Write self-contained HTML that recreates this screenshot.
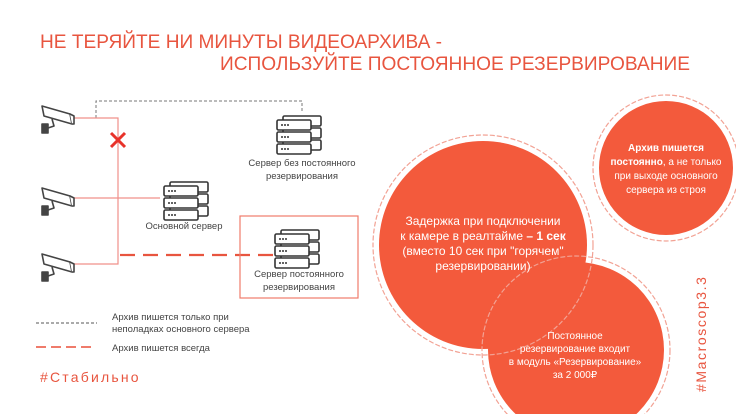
<!DOCTYPE html>
<html><head><meta charset="utf-8"><style>
html,body{margin:0;padding:0;background:#fff;width:736px;height:414px;overflow:hidden}
svg{display:block}
text{font-family:"Liberation Sans","DejaVu Sans",sans-serif}
</style></head><body>
<svg width="736" height="414" viewBox="0 0 736 414" xmlns="http://www.w3.org/2000/svg" style="overflow:hidden">
<defs>
<clipPath id="frame"><rect x="0" y="0" width="736" height="414"/></clipPath>
<g id="srv" fill="#fff" stroke="#333" stroke-width="1.6">
<rect x="6" y="0" width="38" height="10" rx="1.5"/>
<rect x="6" y="12" width="38" height="10" rx="1.5"/>
<rect x="6" y="24" width="38" height="10" rx="1.5"/>
<rect x="0" y="4" width="34" height="10" rx="1.5"/>
<rect x="0" y="16" width="34" height="10" rx="1.5"/>
<rect x="0" y="28" width="34" height="10" rx="1.5"/>
<g fill="#333" stroke="none">
<circle cx="5" cy="9" r="1"/><circle cx="8" cy="9" r="1"/><circle cx="11" cy="9" r="1"/>
<circle cx="5" cy="21" r="1"/><circle cx="8" cy="21" r="1"/><circle cx="11" cy="21" r="1"/>
<circle cx="5" cy="33" r="1"/><circle cx="8" cy="33" r="1"/><circle cx="11" cy="33" r="1"/>
</g></g>
<g id="cam" fill="#fff" stroke="#444" stroke-width="1.6" stroke-linejoin="round">
<path d="M2 2 L30 10 L32 20 L4 12 Z"/>
<path d="M30 10 L34 12 L34 20 L32 20"/>
<path d="M12 15 L14 22 L8 24" fill="none"/>
<rect x="2" y="20" width="6" height="9" fill="#444"/>
</g>
</defs>

<text x="40" y="48" font-size="19" fill="#e8553f" textLength="402" lengthAdjust="spacingAndGlyphs">НЕ ТЕРЯЙТЕ НИ МИНУТЫ ВИДЕОАРХИВА -</text>
<text x="220" y="70" font-size="19" fill="#e8553f" textLength="470" lengthAdjust="spacingAndGlyphs">ИСПОЛЬЗУЙТЕ ПОСТОЯННОЕ РЕЗЕРВИРОВАНИЕ</text>

<polyline points="96,118 96,101 302,101 302,112" fill="none" stroke="#777" stroke-width="1" stroke-dasharray="3,2"/>
<polyline points="73,118 118,118 118,264 72,264" fill="none" stroke="#f0908a" stroke-width="1.2"/>
<line x1="72" y1="198" x2="160" y2="198" stroke="#f0908a" stroke-width="1.2"/>
<line x1="120" y1="255" x2="276" y2="255" stroke="#e8553f" stroke-width="2.2" stroke-dasharray="15,8"/>
<g stroke="#e8322a" stroke-width="3"><line x1="111" y1="133" x2="125" y2="147"/><line x1="125" y1="133" x2="111" y2="147"/></g>

<use href="#cam" x="40" y="104"/>
<use href="#cam" x="40" y="186"/>
<use href="#cam" x="40" y="252"/>

<use href="#srv" x="277" y="116"/>
<text x="302" y="166" font-size="9.5" fill="#444" text-anchor="middle">Сервер без постоянного</text>
<text x="302" y="179" font-size="9.5" fill="#444" text-anchor="middle">резервирования</text>

<use href="#srv" x="164" y="182"/>
<text x="184" y="229" font-size="9.5" fill="#444" text-anchor="middle">Основной сервер</text>

<rect x="240" y="216" width="118" height="82" fill="none" stroke="#ef7b6b" stroke-width="1.2"/>
<use href="#srv" x="275" y="230"/>
<text x="299" y="277" font-size="9.5" fill="#444" text-anchor="middle">Сервер постоянного</text>
<text x="299" y="290" font-size="9.5" fill="#444" text-anchor="middle">резервирования</text>

<line x1="36" y1="323" x2="97" y2="323" stroke="#555" stroke-width="1" stroke-dasharray="3,2"/>
<text x="112" y="320" font-size="9.5" fill="#444">Архив пишется только при</text>
<text x="112" y="332" font-size="9.5" fill="#444">неполадках основного сервера</text>
<line x1="36" y1="347" x2="96" y2="347" stroke="#ef7b6b" stroke-width="2" stroke-dasharray="10,5"/>
<text x="112" y="351" font-size="9.5" fill="#444">Архив пишется всегда</text>
<text x="40" y="382" font-size="14" fill="#e8553f" letter-spacing="2.2">#Стабильно</text>

<g clip-path="url(#frame)">
<g fill="#f35a3c">
<circle cx="483" cy="245" r="104"/>
<circle cx="576" cy="350" r="88"/>
<circle cx="666" cy="168" r="67"/>
</g>
<g fill="none" stroke="#f2a294" stroke-width="1.2" stroke-dasharray="5,2">
<circle cx="483" cy="245" r="110"/>
<circle cx="576" cy="350" r="94"/>
<circle cx="666" cy="168" r="73"/>
</g>
</g>
<g fill="#fff" text-anchor="middle">
<text x="666" y="151" font-size="10" font-weight="bold">Архив пишется</text>
<text x="666" y="165" font-size="10"><tspan font-weight="bold">постоянно</tspan>, а не только</text>
<text x="666" y="179" font-size="10">при выходе основного</text>
<text x="666" y="193" font-size="10">сервера из строя</text>
<text x="483" y="225" font-size="12">Задержка при подключении</text>
<text x="483" y="240" font-size="12">к камере в реалтайме <tspan font-weight="bold">– 1 сек</tspan></text>
<text x="483" y="255" font-size="12">(вместо 10 сек при "горячем"</text>
<text x="483" y="270" font-size="12">резервировании)</text>
<text x="575" y="339" font-size="10">Постоянное</text>
<text x="575" y="352" font-size="10">резервирование входит</text>
<text x="575" y="365" font-size="10">в модуль «Резервирование»</text>
<text x="575" y="378" font-size="10">за 2 000₽</text>
</g>
<text transform="translate(706,392) rotate(-90)" font-size="14" fill="#e8553f" letter-spacing="1.6">#Macroscop3.3</text>
</svg>
</body></html>
